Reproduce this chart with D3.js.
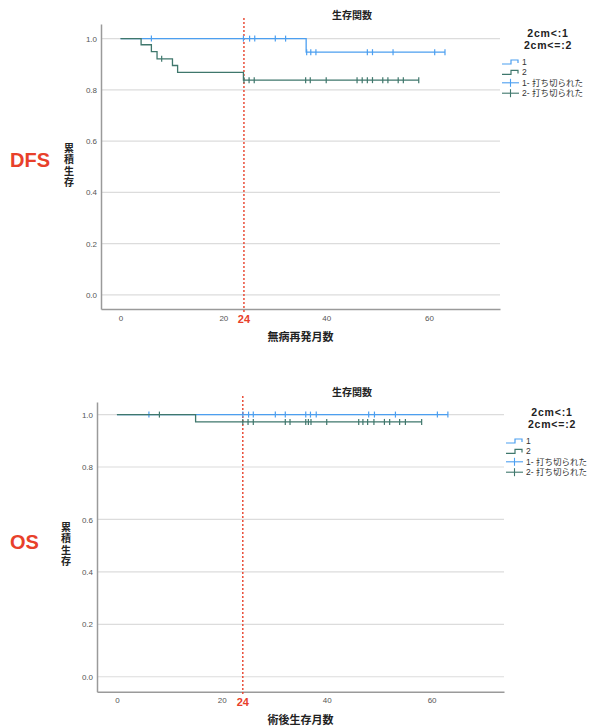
<!DOCTYPE html>
<html>
<head>
<meta charset="utf-8">
<script src="https://cdn.jsdelivr.net/npm/d3@7"></script>
<style>
  body { margin: 0; background: #fff; }
  text { font-family: "Liberation Sans", "Noto Sans CJK JP", sans-serif; }
  .jp { font-family: "Noto Sans CJK JP", sans-serif; }
  .vt { writing-mode: vertical-rl; text-orientation: upright; }
</style>
</head>
<body>
<svg id="chart"></svg>
<script>
// ---- data ----
const yTicks = [0, 0.2, 0.4, 0.6, 0.8, 1.0];
const xTicks = [0, 20, 40, 60];
const cutMonth = 24;
const groupNames = ["1", "2"];
const legendHeader = ["2cm<:1", "2cm<=:2"];

// DFS : step curves [time, survival]
const dfsG1Steps = [[0, 1.0], [36.1, 0.947], [63.1, 0.947]];
const dfsG1Censor = [6, 23.9, 25.1, 26.1, 30.1, 32.1, 36.2, 37, 38, 48, 49, 53, 61.1, 63.1];
const dfsG2Steps = [[0, 1.0], [4, 0.976], [6, 0.949], [7.1, 0.921], [10.1, 0.895], [11.1, 0.868], [23.9, 0.838], [58, 0.838]];
const dfsG2Censor = [8, 24, 25, 26, 36, 36.9, 40, 46, 47, 48, 49, 51, 52, 54, 55, 58];

// OS
const osG1Steps = [[0, 1.0], [63.1, 1.0]];
const osG1Censor = [6.1, 24, 25.1, 26, 30.2, 32.1, 36, 36.9, 38, 48, 49.1, 53.1, 61.1, 63.1];
const osG2Steps = [[0, 1.0], [15, 0.972], [58.1, 0.972]];
const osG2Censor = [8.1, 24, 25, 26, 32.1, 33, 36, 36.5, 37, 40, 46.1, 46.9, 47.8, 49, 51, 52, 53.9, 55, 58.1];

const blue = "#4c9ff0";
const teal = "#3f776c";
const red = "#e8402a";

const svg = d3.select("#chart").attr("width", 595).attr("height", 727);

function drawPanel(cfg) {
  const x = d3.scaleLinear().domain([-3.8, 73.8]).range([cfg.left, cfg.right]);
  const y = d3.scaleLinear().domain([cfg.yMin, cfg.yMax]).range([cfg.bottom, cfg.top]);
  const g = svg.append("g");

  // gridlines
  g.selectAll(".grid")
    .data(yTicks)
    .enter()
    .append("line")
    .attr("x1", cfg.left)
    .attr("x2", cfg.right)
    .attr("y1", (d) => y(d))
    .attr("y2", (d) => y(d))
    .attr("stroke", "#dcdcdc")
    .attr("stroke-width", 1.2);

  // axes
  const yAxis = d3.axisLeft(y).tickValues(yTicks).tickFormat(d3.format(".1f")).tickSize(0).tickPadding(4);
  const xAxis = d3.axisBottom(x).tickValues(xTicks).tickFormat(d3.format("d")).tickSize(0).tickPadding(6);

  const ya = g.append("g").attr("transform", `translate(${cfg.left},0)`).call(yAxis);
  const xa = g.append("g").attr("transform", `translate(0,${cfg.bottom})`).call(xAxis);
  [ya, xa].forEach((a) => {
    a.select(".domain").attr("stroke", "#9a9a9a").attr("stroke-width", 1.5);
    a.selectAll("text").attr("fill", "#555").attr("font-size", 8);
  });

  // 24 month line
  g.append("line")
    .attr("x1", x(cutMonth))
    .attr("x2", x(cutMonth))
    .attr("y1", cfg.top - 6)
    .attr("y2", cfg.bottom + 3)
    .attr("stroke", red)
    .attr("stroke-width", 1.4)
    .attr("stroke-dasharray", "2,2");
  g.append("text")
    .attr("x", x(cutMonth))
    .attr("y", cfg.bottom + 14)
    .attr("text-anchor", "middle")
    .attr("fill", red)
    .attr("font-weight", "bold")
    .attr("font-size", 11)
    .text(cutMonth);

  // curves
  const line = d3.line().x((d) => x(d[0])).y((d) => y(d[1])).curve(d3.curveStepAfter);
  function stepAt(steps, t) {
    let v = steps[0][1];
    steps.forEach((s) => { if (s[0] <= t) v = s[1]; });
    return v;
  }
  cfg.series.forEach((s) => {
    g.append("path")
      .datum(s.steps)
      .attr("d", line)
      .attr("fill", "none")
      .attr("stroke", s.color)
      .attr("stroke-width", 1.3);
    g.selectAll(null)
      .data(s.censor)
      .enter()
      .append("line")
      .attr("x1", (d) => x(d))
      .attr("x2", (d) => x(d))
      .attr("y1", (d) => y(stepAt(s.steps, d)) - 3)
      .attr("y2", (d) => y(stepAt(s.steps, d)) + 3)
      .attr("stroke", s.color)
      .attr("stroke-width", 1.2);
  });

  // titles
  g.append("text")
    .attr("class", "jp")
    .attr("x", 352)
    .attr("y", cfg.titleY)
    .attr("text-anchor", "middle")
    .attr("font-size", 10)
    .attr("font-weight", "bold")
    .attr("fill", "#222")
    .text("生存関数");

  g.append("text")
    .attr("class", "jp")
    .attr("x", (cfg.left + cfg.right) / 2)
    .attr("y", cfg.bottom + 32)
    .attr("text-anchor", "middle")
    .attr("font-size", 11)
    .attr("font-weight", "bold")
    .attr("fill", "#222")
    .text(cfg.xTitle);

  // vertical y title, upright characters
  g.append("text")
    .attr("class", "jp vt")
    .attr("x", cfg.yTitleX)
    .attr("y", cfg.yTitleY)
    .attr("font-size", 10)
    .attr("letter-spacing", 1.5)
    .attr("font-weight", "bold")
    .attr("fill", "#222")
    .text("累積生存");

  g.append("text")
    .attr("x", 10)
    .attr("y", cfg.labelY + 7)
    .attr("font-size", 20)
    .attr("font-weight", "bold")
    .attr("fill", red)
    .text(cfg.label);

  // legend
  const lg = g.append("g").attr("transform", `translate(${cfg.legX},${cfg.legY})`);
  legendHeader.forEach((t, i) => {
    lg.append("text")
      .attr("x", 46)
      .attr("y", i * 12)
      .attr("text-anchor", "middle")
      .attr("font-size", 10.5)
      .attr("letter-spacing", 0.8)
      .attr("font-weight", "bold")
      .attr("fill", "#222")
      .text(t);
  });
  const items = [
    { label: groupNames[0], color: blue, step: true },
    { label: groupNames[1], color: teal, step: true },
    { label: groupNames[0] + "- 打ち切られた", color: blue, step: false },
    { label: groupNames[1] + "- 打ち切られた", color: teal, step: false },
  ];
  items.forEach((it, i) => {
    const iy = 25 + i * 10.4;
    if (it.step) {
      lg.append("path")
        .attr("d", `M0,${iy + 2} H9 V${iy - 2} H16 V${iy + 1}`)
        .attr("fill", "none")
        .attr("stroke", it.color)
        .attr("stroke-width", 1.2);
    } else {
      lg.append("line").attr("x1", 0).attr("x2", 17).attr("y1", iy).attr("y2", iy)
        .attr("stroke", it.color).attr("stroke-width", 1.1);
      lg.append("line").attr("x1", 8.5).attr("x2", 8.5).attr("y1", iy - 4).attr("y2", iy + 4)
        .attr("stroke", it.color).attr("stroke-width", 1.1);
    }
    lg.append("text")
      .attr("x", 20)
      .attr("y", iy + 3)
      .attr("font-size", 8.5)
      .attr("fill", "#333")
      .text(it.label);
  });
}

drawPanel({
  left: 101, right: 500, top: 24, bottom: 309,
  yMin: -0.055, yMax: 1.057,
  titleY: 19, xTitle: "無病再発月数",
  yTitleX: 69, yTitleY: 143,
  label: "DFS", labelY: 160,
  legX: 502, legY: 37,
  series: [
    { steps: dfsG1Steps, censor: dfsG1Censor, color: blue },
    { steps: dfsG2Steps, censor: dfsG2Censor, color: teal },
  ],
});

drawPanel({
  left: 97, right: 504, top: 402, bottom: 691.7,
  yMin: -0.057, yMax: 1.048,
  titleY: 396, xTitle: "術後生存月数",
  yTitleX: 66, yTitleY: 522,
  label: "OS", labelY: 542,
  legX: 506, legY: 416,
  series: [
    { steps: osG1Steps, censor: osG1Censor, color: blue },
    { steps: osG2Steps, censor: osG2Censor, color: teal },
  ],
});
</script>
</body>
</html>
